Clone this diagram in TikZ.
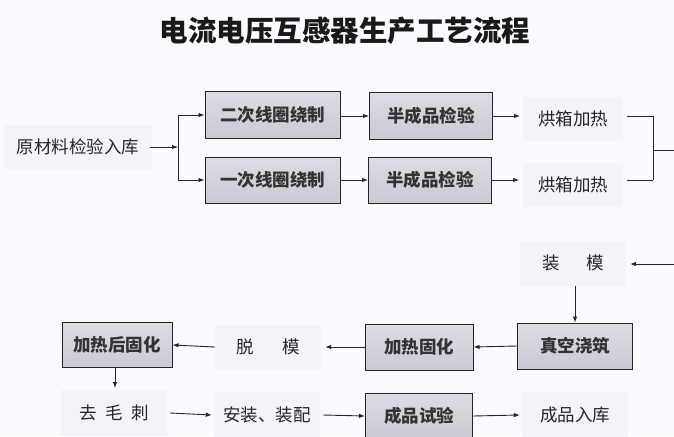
\documentclass[tikz,border=0pt]{standalone}
\usepackage{fontspec}
\setmainfont{Noto Sans CJK SC}
\newfontfamily\cjk{Noto Sans CJK SC}
\usetikzlibrary{arrows.meta}
\definecolor{bgc}{RGB}{248,250,253}
\definecolor{faint}{RGB}{243,244,249}
\definecolor{boxc}{RGB}{202,202,212}
\definecolor{boxtop}{RGB}{220,220,228}
\definecolor{linec}{RGB}{35,35,40}
\begin{document}
\begin{tikzpicture}[x=1pt,y=-1pt,
  procbox/.style={draw=linec,line width=1pt,top color=boxtop,bottom color=boxc,
    font=\cjk\bfseries\fontsize{17.5}{19}\selectfont,text=black!80,inner sep=0pt},
  plain/.style={fill=faint,font=\cjk\fontsize{17.5}{19}\selectfont,text=black!85,
    inner sep=0pt},
  arr/.style={draw=linec,line width=0.9pt,-{Latex[length=6pt,width=4.5pt]}},
  ln/.style={draw=linec,line width=0.9pt}]
\useasboundingbox (0,0) rectangle (674,436);
\fill[bgc] (0,0) rectangle (674,436);
\begin{scope}
\clip (0,0) rectangle (674,436);
\node[font=\cjk\bfseries\fontsize{28.5}{30}\selectfont,text=black!90] (title) at (345,31) {电流电压互感器生产工艺流程};
% row 1 & 2
\node[plain,minimum width=148pt,minimum height=44pt] (raw) at (78,147) {原材料检验入库};
\coordinate (split) at (178,147);
\node[procbox,minimum width=135pt,minimum height=47pt] (b2) at (272.5,115) {二次线圈绕制};
\node[procbox,minimum width=135pt,minimum height=46pt] (b1) at (272.5,180) {一次线圈绕制};
\node[procbox,minimum width=123pt,minimum height=47pt] (q1) at (431,116) {半成品检验};
\node[procbox,minimum width=123pt,minimum height=46pt] (q2) at (430,180) {半成品检验};
\node[plain,minimum width=100pt,minimum height=44pt] (h1) at (573,119) {烘箱加热};
\node[plain,minimum width=100pt,minimum height=44pt] (h2) at (573,185) {烘箱加热};
\coordinate (jn) at (653,150);
\coordinate (outr) at (676,150);
\coordinate (inr) at (676,264);
% row 3
\node[plain,minimum width=106pt,minimum height=45pt] (zm) at (573,263) {装\hspace{1.5em}模};
\node[procbox,minimum width=115pt,minimum height=46pt] (zk) at (575,346) {真空浇筑};
\node[procbox,minimum width=108pt,minimum height=46pt] (jr) at (419,347) {加热固化};
\node[plain,minimum width=106pt,minimum height=45pt] (tm) at (268,347) {脱\hspace{1.6em}模};
\node[procbox,minimum width=110pt,minimum height=45pt] (jh) at (117,345) {加热后固化};
% row 4
\node[plain,minimum width=106pt,minimum height=46pt] (qm) at (114,413) {去\hspace{0.5em}毛\hspace{0.5em}刺};
\node[plain,minimum width=106pt,minimum height=46pt] (az) at (267,415) {安装、装配};
\node[procbox,minimum width=107pt,minimum height=46pt] (cs) at (419,416) {成品试验};
\node[plain,minimum width=106pt,minimum height=46pt] (rk) at (575,415) {成品入库};
% connectors
\draw[arr] (raw.east) ++(-2,0) -- (split);
\draw[ln] (split |- b2.west) -- (split |- b1.west);
\draw[arr] (split |- b2.west) -- (b2.west);
\draw[arr] (split |- b1.west) -- (b1.west);
\draw[arr] (b2.east |- q1.west) -- (q1.west);
\draw[arr] (b1.east |- q2.west) -- (q2.west);
\draw[arr] (q1.east) -- ++(27,0);
\draw[arr] (q2.east) -- ++(27,0);
\draw[ln] (h1.east) ++(4,-3) -- ++(26,0) coordinate (c1);
\draw[ln] (h2.east) ++(4,-5) -- ++(26,0) coordinate (c2);
\draw[ln] (c1) -- (c2);
\draw[ln] (jn) -- (outr);
\draw[arr] (inr) -- ([xshift=4pt]zm.east |- inr);
\draw[arr] (zk.north |- zm.south) -- (zk.north);
\draw[arr] (zk.west) -- (jr.east);
\draw[arr] (jr.west) -- ([xshift=4pt]tm.east);
\draw[arr] (tm.west) -- (jh.east);
\draw[arr] (jh.south -| 115,0) -- (115,388);
\draw[arr] ([xshift=3pt]qm.east) -- ([xshift=-2pt]az.west);
\draw[arr] ([xshift=3pt]az.east) -- (cs.west);
\draw[arr] (cs.east) -- ([xshift=-2pt]rk.west);
\end{scope}
\end{tikzpicture}
\end{document}
